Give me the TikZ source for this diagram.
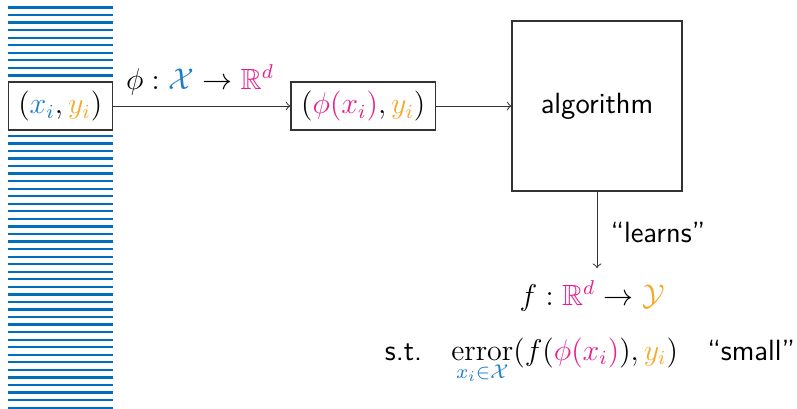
\documentclass[tikz,border=0pt]{standalone}
\usepackage{amsmath,amssymb}
\definecolor{dblue}{RGB}{0,110,189}
\definecolor{xblue}{RGB}{28,125,200}
\definecolor{fmag}{RGB}{233,30,140}
\definecolor{yorange}{RGB}{247,168,40}
\tikzset{
  bar/.style={draw=dblue, line width=0.9pt},
  box/.style={draw=black!80, line width=0.5pt, fill=white, inner sep=0pt},
  conn/.style={draw=black!80, line width=0.4pt, ->},
  lbl/.style={inner sep=0pt}
}
\begin{document}
\begin{tikzpicture}[x=0.4pt, y=-0.4pt, font=\fontsize{11.7}{14}\selectfont]
\useasboundingbox (0,0) rectangle (797,408);

% stack of data rows
\foreach \k in {0,...,53}
  \draw[bar] (8,{7.5+7.55*\k}) -- (113,{7.5+7.55*\k});

% pipeline boxes
\node[box, minimum width=41.6pt, minimum height=19.2pt] (xy) at (60.3,106)
  {$(\textcolor{xblue}{x_i}, \textcolor{yorange}{y_i})$};
\node[box, minimum width=57.9pt, minimum height=19.2pt] (phixy) at (363.3,106)
  {$(\textcolor{fmag}{\phi(x_i)}, \textcolor{yorange}{y_i})$};
\node[box, minimum width=68pt, minimum height=68pt] (alg) at (597,106)
  {\sffamily algorithm};

% connectors
\draw[conn] (xy) -- (phixy);
\node[lbl] (featmap) at (200,80)
  {$\phi : \textcolor{xblue}{\mathcal{X}} \to \textcolor{fmag}{\mathbb{R}^d}$};
\draw[conn] (phixy) -- (alg);

\coordinate (learnend) at (597,268);
\draw[conn] (alg.south) -- (learnend);
\node[lbl, anchor=west] (learns) at (610,232) {\sffamily ``learns''};

% learned predictor and objective
\node[lbl] (fmap) at (592,296)
  {$f : \textcolor{fmag}{\mathbb{R}^d} \to \textcolor{yorange}{\mathcal{Y}}$};
\node[lbl, anchor=base] (obj) at (590,360)
  {\sffamily s.t.\quad
   $\displaystyle\mathop{\mathrm{error}}\limits_{\textcolor{xblue}{x_i\in\mathcal{X}}}
   (f(\textcolor{fmag}{\phi(x_i)}), \textcolor{yorange}{y_i})$\quad ``small''};
\end{tikzpicture}
\end{document}
